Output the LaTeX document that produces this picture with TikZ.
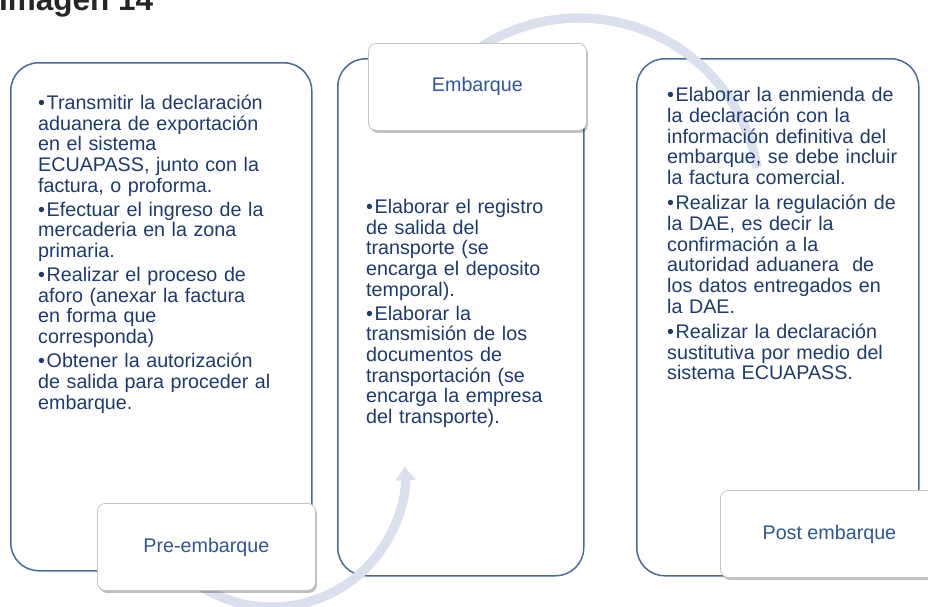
\documentclass[tikz,border=0pt]{standalone}
\usepackage{fontspec}
\setmainfont{Liberation Sans}
\usetikzlibrary{arrows.meta,shadows}
\definecolor{boxc}{RGB}{74,106,153}
\definecolor{txtc}{RGB}{30,58,108}
\definecolor{lblc}{RGB}{50,86,145}
\definecolor{lbledge}{RGB}{196,196,196}
\definecolor{arcc}{RGB}{218,224,238}
\definecolor{titlec}{RGB}{38,38,38}
\newcommand\bitem[1]{\hangindent=8.5pt\hangafter=1\noindent\makebox[8.5pt][l]{\textbullet}#1\par}
\newcommand\bodyfont{\fontsize{19.7}{20.7}\selectfont}
\begin{document}
\begin{tikzpicture}[x=1pt,y=-1pt,
  stagebox/.style={draw=boxc, line width=1.5pt, rounded corners=28pt, anchor=north west, inner sep=0pt},
  stagelabel/.style={draw=lbledge, line width=0.8pt, fill=white, rounded corners=8pt, anchor=north west, inner sep=0pt, minimum width=218pt, minimum height=87pt, text=lblc, font=\bodyfont, drop shadow={shadow xshift=1.5pt, shadow yshift=-2.5pt, opacity=0.25, fill=black}},
  bullettext/.style={anchor=base west, inner sep=0pt, text width=#1, text=txtc, font=\bodyfont},
  flowarc/.style={line width=9pt, draw=arcc},
  flowshadow/.style={line width=9pt, draw=black, opacity=0.12},
  arrowtip/.style={-{Triangle[width=19pt,length=13pt]}}
]
\useasboundingbox (0,0) rectangle (928,606);

% title
\node[anchor=base west, inner sep=0pt, font=\fontsize{31.5}{31.5}\selectfont\bfseries, text=titlec] (title) at (-1,10) {Imagen 14};

% stage boxes
\node[stagebox, minimum width=301pt, minimum height=508pt] (b1) at (10,62) {};
\node[stagebox, minimum width=246pt, minimum height=517pt] (b2) at (337,58) {};
\node[stagebox, minimum width=282pt, minimum height=517pt] (b3) at (636,58) {};

% circular connectors
\coordinate (c1) at (272,474);
\coordinate (c2) at (579,199);
\draw[flowshadow, arrowtip, shift={(1.5,2)}] (c1) ++(125:133) arc[start angle=125, end angle=-3, radius=133];
\draw[flowarc, arrowtip] (c1) ++(125:133) arc[start angle=125, end angle=-3, radius=133];
\draw[flowshadow, shift={(1.5,2)}] (c2) ++(-125:181) arc[start angle=-125, end angle=-10, radius=181];
\draw[flowarc] (c2) ++(-125:181) arc[start angle=-125, end angle=-10, radius=181];

% bullet texts
\node[bullettext=272pt] (t1) at (38,109.3) {\setlength\parskip{3.3pt}\raggedright
\bitem{Transmitir la declaración\\ aduanera de exportación\\ en el sistema\\ ECUAPASS, junto con la\\ factura, o proforma.}
\bitem{Efectuar el ingreso de la\\ mercaderia en la zona\\ primaria.}
\bitem{Realizar el proceso de\\ aforo (anexar la factura\\ en forma que\\ corresponda)}
\bitem{Obtener la autorización\\ de salida para proceder al\\ embarque.}};

\node[bullettext=215pt] (t2) at (366,213.3) {\setlength\parskip{3.3pt}\raggedright
\bitem{Elaborar el registro\\ de salida del\\ transporte (se\\ encarga el deposito\\ temporal).}
\bitem{Elaborar la\\ transmisión de los\\ documentos de\\ transportación (se\\ encarga la empresa\\ del transporte).}};

\node[bullettext=250pt] (t3) at (667,101.7) {\setlength\parskip{4.5pt}\raggedright
\bitem{Elaborar la enmienda de\\ la declaración con la\\ información definitiva del\\ embarque, se debe incluir\\ la factura comercial.}
\bitem{Realizar la regulación de\\ la DAE, es decir la\\ confirmación a la\\ autoridad aduanera\ \ de\\ los datos entregados en\\ la DAE.}
\bitem{Realizar la declaración\\ sustitutiva por medio del\\ sistema ECUAPASS.}};

% stage labels
\node[stagelabel] (pre) at (97,503) {Pre-embarque};
\node[stagelabel] (emb) at (368,43) {Embarque};
\node[stagelabel] (post) at (720,490) {Post embarque};
\end{tikzpicture}
\end{document}
